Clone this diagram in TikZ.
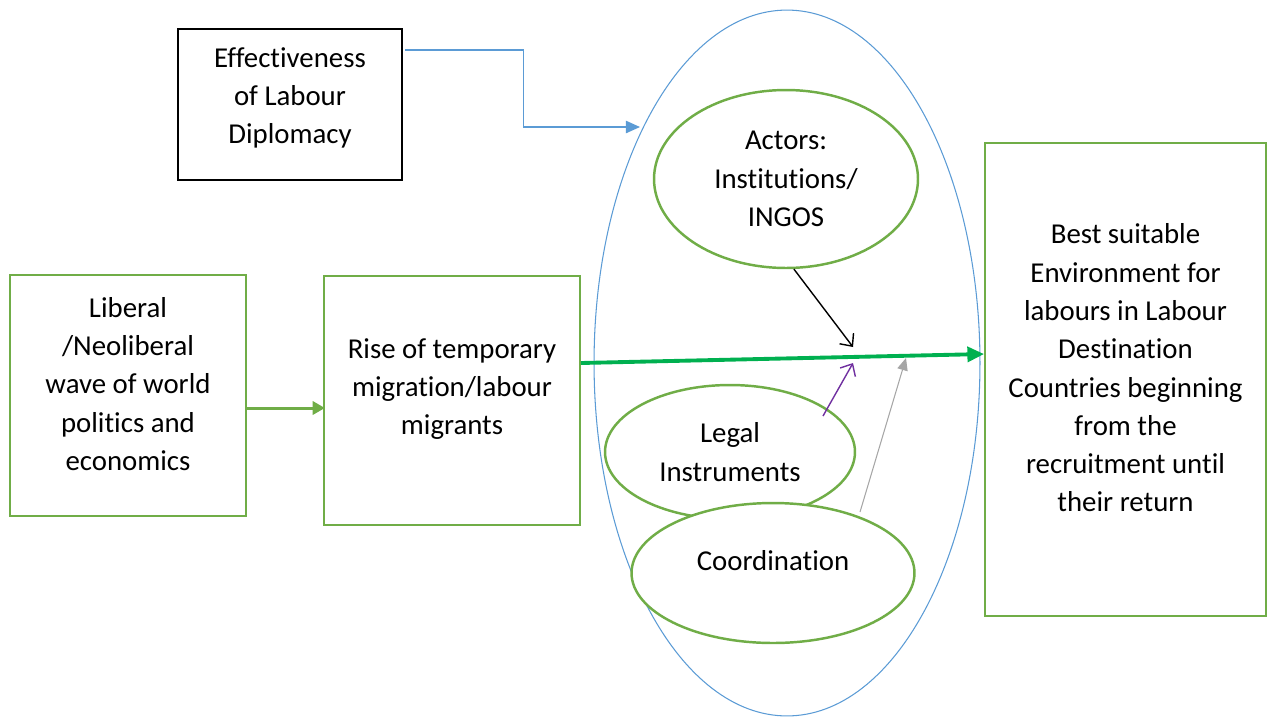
\documentclass[tikz,border=0pt]{standalone}
\usepackage{fontspec}
\setmainfont{Carlito}[Ligatures=NoCommon]
\usetikzlibrary{arrows.meta,shapes.geometric}
\definecolor{boxgreen}{HTML}{70AD47}
\definecolor{arrgreen}{HTML}{00B050}
\definecolor{lineblue}{HTML}{5B9BD5}
\definecolor{violet}{HTML}{7030A0}
\definecolor{lightgray}{HTML}{A6A6A6}

\begin{document}
\begin{tikzpicture}[x=0.02cm,y=-0.02cm,
  every node/.style={font=\fontsize{16.4}{21.8}\selectfont, align=center, inner sep=0pt},
  gbox/.style={draw=boxgreen, line width=1.1pt},
  goval/.style={draw=boxgreen, ellipse, line width=1.4pt, fill=white}]
  \useasboundingbox (0,0) rectangle (1273,717);

  % outer ellipse
  \node[draw=lineblue, ellipse, line width=0.6pt, minimum width=7.72cm, minimum height=14.12cm] (big) at (787,363) {};

  % boxes
  \node[draw, line width=0.9pt, minimum width=4.48cm, minimum height=3.02cm] (eff) at (290,104.5) {};
  \path (eff) ++(0,-6.5) node {Effectiveness\\of Labour\\Diplomacy};
  \node[gbox, minimum width=4.72cm, minimum height=4.82cm] (liberal) at (128,395.5) {};
  \path (liberal) ++(0,-11.5) node {Liberal\\/Neoliberal\\wave of world\\politics and\\economics};
  \node[gbox, minimum width=5.12cm, minimum height=4.98cm] (rise) at (452,400.5) {};
  \path (rise) ++(0,-11.5) node {Rise of temporary\\migration/labour\\migrants};
  \node[gbox, minimum width=5.62cm, minimum height=9.46cm] (best) at (1125.5,379.5) {};
  \path (best) ++(0,-11.5) node {Best suitable\\Environment for\\labours in Labour\\Destination\\Countries beginning\\from the\\recruitment until\\their return};

  % ellipses inside
  \node[goval, minimum width=5.28cm, minimum height=3.56cm] (actors) at (786,179) {Actors:\\Institutions/\\INGOS};
  \node[goval, minimum width=5cm, minimum height=2.68cm] (legal) at (730,452) {Legal\\Instruments};
  \node[goval, minimum width=5.66cm, minimum height=2.8cm] (coord) at (773,573) {};
  \path (coord) ++(0,-12) node {Coordination};

  % connectors
  \coordinate (bluetip) at (640,127);
  \draw[lineblue, line width=0.8pt, -{Triangle[length=8pt,width=7pt]}]
    (eff.east) ++(2,-54.5) -| ++(119,77) -- (bluetip);
  \draw[boxgreen, line width=1.7pt, -{Triangle[length=7pt,width=7.5pt]}]
    (liberal.east) ++(0,12.5) -- ++(78,0);
  \draw[arrgreen, line width=2.2pt, -{Triangle[length=9.5pt,width=8.5pt]}]
    (rise.east) ++(0,-37.5) coordinate (mainstart) -- ([yshift=14.5pt]best.west);
  \coordinate (blackend) at (853,347);
  \coordinate (violetend) at (853,363);
  \coordinate (grayend) at (906,358);
  \draw[line width=0.8pt, -{Straight Barb[length=5.5pt,width=10pt]}] (actors.-85) -- (blackend);
  \draw[violet, line width=0.8pt, -{Straight Barb[length=5.5pt,width=10pt]}] (legal) ++(93,-36) -- (violetend);
  \draw[lightgray, line width=0.6pt, -{Triangle[length=7pt,width=6pt]}] (coord) ++(87,-61) -- (grayend);
\end{tikzpicture}
\end{document}
